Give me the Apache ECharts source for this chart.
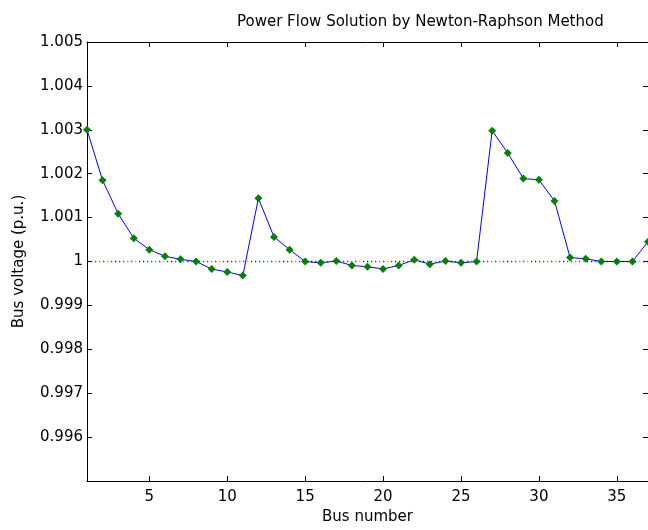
<!DOCTYPE html>
<html><head><meta charset="utf-8">
<script src="https://cdn.jsdelivr.net/npm/echarts@6/dist/echarts.min.js"></script>
<style>html,body{margin:0;padding:0;background:#fff}#c{width:648px;height:530px}</style>
</head><body><div id="c"></div>
<script>
const busNumbers = [1,2,3,4,5,6,7,8,9,10,11,12,13,14,15,16,17,18,19,20,21,22,23,24,25,26,27,28,29,30,31,32,33,34,35,36,37];
const busVoltage = [1.00300,1.00185,1.00109,1.00053,1.00027,1.00012,1.00005,1.00000,0.99983,0.99976,0.99968,
  1.00144,1.00056,1.00027,1.00000,0.99997,1.00001,0.99991,0.99988,0.99983,0.99991,1.00004,0.99994,1.00001,
  0.99997,1.00000,1.00298,1.00247,1.00189,1.00186,1.00138,1.00009,1.00006,1.00000,1.00000,1.00000,1.00045];
const xTicks = [5,10,15,20,25,30,35];
const xRange = [1,37];
const yRange = [0.995,1.005];
const yStep = 0.001;
const nominalVoltage = 1;
const refColors = ['#0000ff','#008000','#ff0000','#00bfbf','#bf00bf','#bfbf00','#404040'];
const titleText = 'Power Flow Solution by Newton-Raphson Method';
const xName = 'Bus number';
const yName = 'Bus voltage (p.u.)';

const FONT = 'DejaVu Sans, sans-serif';
const FS = 15;
const chart = echarts.init(document.getElementById('c'), null, {renderer:'canvas'});
const fmt = v => String(parseFloat(v.toFixed(3)));
const axisCommon = {
  axisLine:{show:true,lineStyle:{color:'#000',width:1}},
  splitLine:{show:false}
};
const refSeries = refColors.map((c,i)=>({
  type:'line', xAxisIndex:0, yAxisIndex:0, silent:true, symbol:'none', z:1,
  data: xRange.map(x=>[x,nominalVoltage]),
  lineStyle:{color:c,width:1.3,type:[1.3,26.7],dashOffset:-4*i}
}));
chart.setOption({
  animation:false,
  backgroundColor:'#fff',
  title:{text:titleText,left:232,top:10,textStyle:{fontFamily:FONT,fontSize:FS,fontWeight:'normal',color:'#000'}},
  grid:{left:87,top:42,width:564,height:445,containLabel:false},
  xAxis:[
    Object.assign({type:'value',min:xRange[0],max:xRange[1],position:'bottom',
      name:xName,nameLocation:'middle',nameGap:29,
      nameTextStyle:{fontFamily:FONT,fontSize:FS,color:'#000',verticalAlign:'top'},
      axisTick:{show:true,inside:true,length:5,lineStyle:{color:'#000'},customValues:xTicks},
      axisLabel:{show:true,margin:9,fontFamily:FONT,fontSize:FS,color:'#000',customValues:xTicks}},axisCommon),
    Object.assign({type:'value',min:xRange[0],max:xRange[1],position:'top',
      axisTick:{show:true,inside:true,length:5,lineStyle:{color:'#000'},customValues:xTicks},
      axisLabel:{show:false,customValues:xTicks}},axisCommon)
  ],
  yAxis:[
    Object.assign({type:'value',min:yRange[0],max:yRange[1],interval:yStep,position:'left',
      name:yName,nameLocation:'middle',nameGap:60,
      nameTextStyle:{fontFamily:FONT,fontSize:FS,color:'#000'},
      axisTick:{show:true,inside:true,length:5,lineStyle:{color:'#000'}},
      axisLabel:{show:true,margin:4,fontFamily:FONT,fontSize:FS,color:'#000',formatter:fmt,showMinLabel:false,showMaxLabel:true}},axisCommon),
    Object.assign({type:'value',min:yRange[0],max:yRange[1],interval:yStep,position:'right',
      axisTick:{show:true,inside:true,length:5,lineStyle:{color:'#000'}},
      axisLabel:{show:false}},axisCommon)
  ],
  series: refSeries.concat([{
    type:'line', xAxisIndex:0, yAxisIndex:0, z:3,
    data: busNumbers.map((b,i)=>[b,busVoltage[i]]),
    symbol:'diamond', symbolSize:8,
    itemStyle:{color:'#008000'},
    lineStyle:{color:'#0000ff',width:1}
  }])
});
</script></body></html>
